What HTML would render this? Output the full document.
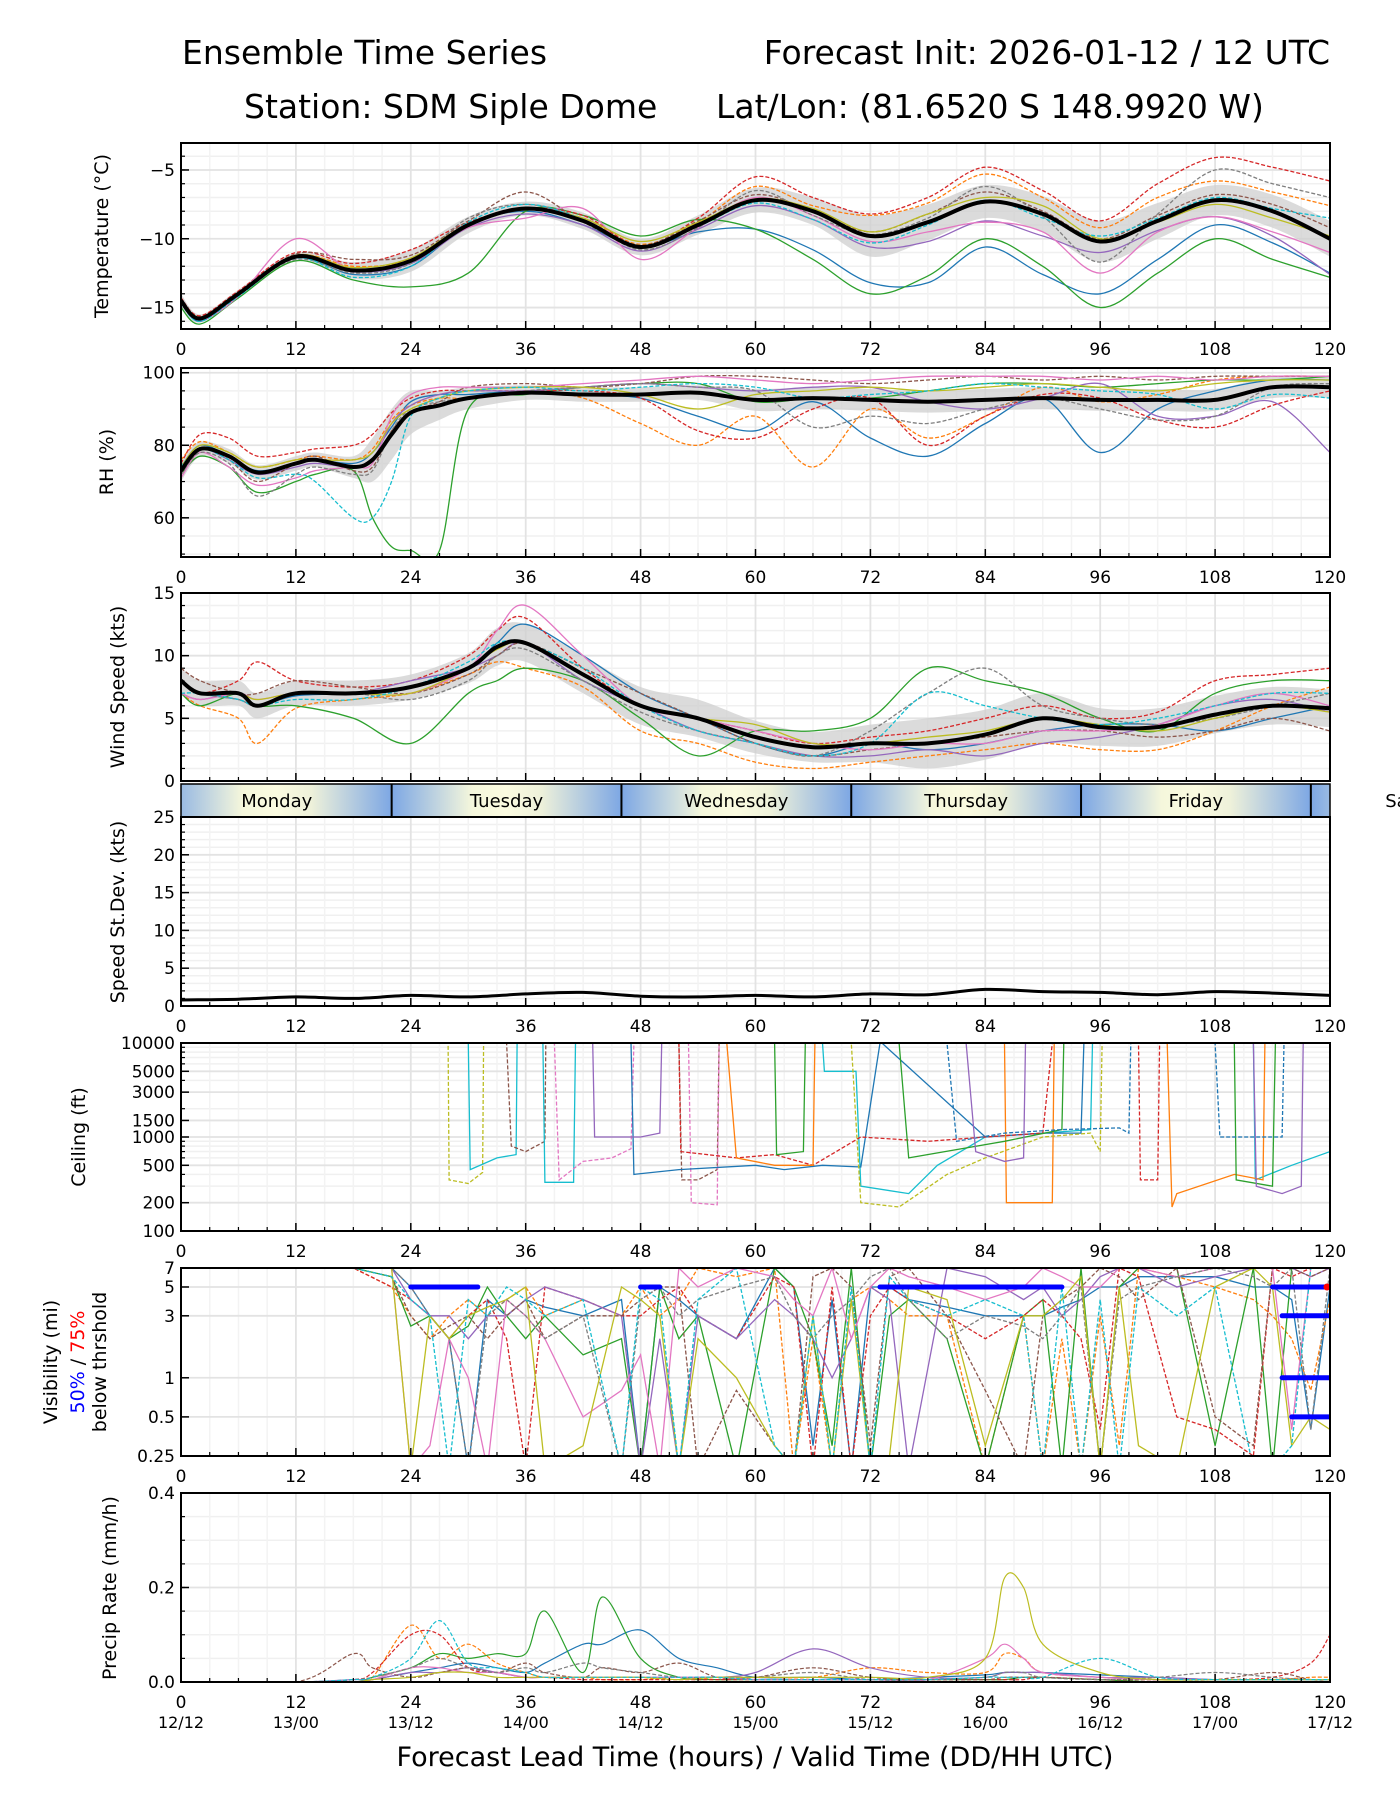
<!DOCTYPE html>
<html><head><meta charset="utf-8"><title>Ensemble Time Series SDM</title>
<style>
html,body{margin:0;padding:0;background:#fff;}
svg{display:block;font-family:"DejaVu Sans","Liberation Sans",sans-serif;}
</style></head>
<body>
<svg id="fig" width="1400" height="1800" viewBox="0 0 1400 1800" xmlns="http://www.w3.org/2000/svg">
<text x="182" y="64" font-size="33">Ensemble Time Series</text>
<text x="1330" y="64" font-size="33" text-anchor="end">Forecast Init: 2026-01-12 / 12 UTC</text>
<text x="244" y="118" font-size="33">Station: SDM  Siple Dome</text>
<text x="716" y="118" font-size="33">Lat/Lon: (81.6520 S 148.9920 W)</text>
<text x="755" y="1766" font-size="27" text-anchor="middle">Forecast Lead Time (hours) / Valid Time (DD/HH UTC)</text>
</svg>
<script>
// ---------------- DATA ----------------
const colors=["#1f77b4","#ff7f0e","#2ca02c","#d62728","#9467bd","#8c564b","#e377c2","#7f7f7f","#bcbd22","#17becf"];
const hoursT=[0,2,6,12,18,24,30,36,42,48,54,60,66,72,78,84,90,96,102,108,114,120];
const meanT=[-14.5,-15.8,-14.0,-11.3,-12.3,-11.6,-9.0,-7.8,-8.7,-10.6,-9.0,-7.2,-8.0,-9.8,-8.8,-7.3,-8.2,-10.2,-8.7,-7.2,-8.0,-10.0];
const spreadT=[0.5,0.3,0.3,0.3,0.6,0.8,0.6,0.5,0.6,0.6,0.7,0.9,1.0,1.5,1.3,1.2,1.3,1.5,1.3,1.1,1.2,1.3];
const tempM0=[-14.6,-16,-14.1,-11.4,-12.6,-12,-9,-8,-9,-10.6,-9.5,-9.3,-10.8,-13.2,-13.2,-10.6,-12.6,-14,-11.5,-9,-10.3,-12.5];
const tempM1=[-14.4,-15.7,-13.9,-11.2,-12,-11.5,-9,-7.9,-8.5,-10.4,-8.8,-6.2,-7.6,-8.3,-7.4,-5.3,-7,-9.2,-7,-5.8,-6.6,-7.6];
const tempM2=[-15,-16.2,-14.3,-11.6,-13,-13.5,-12.5,-8,-8.3,-9.8,-8.6,-9.3,-11.5,-14,-12.7,-10,-12,-15,-12.5,-10,-11.5,-12.8];
const tempM3=[-14.3,-15.6,-13.8,-11,-11.8,-10.8,-8.8,-7.8,-8.3,-10.5,-8.5,-5.5,-7,-8.2,-7,-4.8,-6.5,-8.7,-6,-4.1,-4.8,-5.8];
const tempM4=[-14.5,-15.8,-14,-11.3,-12.4,-11.8,-9.2,-8.2,-9,-10.9,-9.3,-7.6,-8.6,-10.6,-10.2,-8.7,-9.8,-11,-9.4,-8.4,-9.8,-12.6];
const tempM5=[-14.5,-15.8,-14,-11.1,-11.5,-11.2,-8.7,-6.6,-8.8,-10.5,-8.7,-6.8,-8.0,-9.5,-8.2,-6.6,-8,-10,-8.3,-6.8,-7.5,-9.2];
const tempM6=[-14.5,-15.9,-14.2,-10,-12.3,-11.5,-9.2,-8.5,-7.8,-11.5,-9.2,-7,-8.3,-10.2,-9.5,-8.8,-9.5,-12.5,-9.5,-8.4,-9.5,-11];
const tempM7=[-14.6,-15.9,-14,-11.5,-12.5,-11.8,-8.5,-7.5,-8.6,-10.8,-9.2,-6.5,-8.3,-9.7,-8.5,-6.2,-8.4,-11.7,-8.2,-5,-6,-7];
const tempM8=[-14.4,-15.7,-14,-11.2,-12.1,-11.4,-8.9,-7.8,-8.5,-10.2,-8.8,-7.1,-7.8,-9.5,-8.2,-7,-7.6,-10,-8.8,-7.5,-8.5,-9.8];
const tempM9=[-14.7,-16,-14.2,-11.4,-12.8,-12,-8.8,-7.5,-8.6,-10.5,-9.1,-7.4,-8.6,-10.3,-9,-7.2,-8.5,-9.8,-8.5,-7,-7.8,-8.5];

const hoursR=[0,2,5,8,12,14,18,20,22,24,27,30,36,42,48,54,60,66,72,78,84,90,96,102,108,114,120];
const meanR=[73,79,77,72.5,75,76,74,76,83,89,91,93,94.5,94,94,94.5,92.5,93,92.5,92,92.5,93,92.5,92.5,92.5,96,96];
const spreadR=[3,2,2,2,2,2,3,6,7,6,4,3,2,2,2,2,3,3,3,3,3,3,3,3,3,3,3];
const rhM0=[74,80,77,73,75,76,75,78,85,92,94,94,95,94,93,88,84,92,82,77,86,93,78,90,95,98,98];
const rhM1=[76,81,78,74,76,77,76,79,87,91,93,93,95,93,86,80,88,74,90,82,88,96,92,94,98,99,99];
const rhM2=[72,77,74,67,70,72,73,60,52,51,51,90,94,96,97,97,92,93,93,95,97,97,96,97,98,98,99];
const rhM3=[75,83,82,77,78,79,80,83,89,93,95,95,95,95,93,84,82,90,93,80,88,94,93,87,85,91,95];
const rhM4=[73,79,76,72,74,75,74,76,86,91,94,95,95,96,97,96,95,96,96,92,90,93,97,88,88,92,78];
const rhM5=[72,79,76,70,75,77,73,74,84,89,92,96,97,96,97,99,99,98,97,98,99,98,99,98,99,99,99];
const rhM6=[71,78,74,69,71,73,74,75,88,94,96,96,96,97,98,99,98,97,98,99,99,99,98,99,98,99,99];
const rhM7=[72,78,75,66,72,74,72,73,84,90,92,93,95,96,97,96,95,85,88,86,90,93,90,87,88,96,97];
const rhM8=[74,80,78,74,76,76,76,78,86,90,93,95,96,96,94,90,94,95,96,95,96,97,96,95,97,98,98];
const rhM9=[74,79,76,71,72,70,60,60,70,88,93,95,96,95,96,97,96,93,94,95,97,96,95,94,90,94,93];

const hoursW=[0,2,6,8,12,18,24,30,33,36,42,48,54,60,66,72,78,84,90,96,102,108,114,120];
const meanW=[8,7,7,6,7,7,7.5,9,10.7,11,8.5,6,5,3.5,2.7,3,3,3.7,5,4.3,4.3,5.3,6,5.8];
const spreadW=[1,1,1,1,1,1,1,1.2,1.5,1.5,1.5,1.5,1.5,1.3,1.2,1.5,2,2,2,1.5,1.5,1.5,1.5,1.5];
const windM0=[8,7,6.5,6,6.8,7,7.5,9,11,12.5,10,7,5,3,2,3,2.5,3,4,4.5,4.5,4,5,6];
const windM1=[7,6,5,3,5.8,6.5,7,8.5,9.5,9,7.5,4,3,1.5,1,1.5,2,2.5,3,2.5,2.5,4,6,7.5];
const windM2=[7,6,7,6,6,5,3,7,8,9,8,5,2,4,4,5,9,8,7,5,4,7,8,8];
const windM3=[8,7,8,9.5,8,7.5,8,10,12,13,9,6,5,4,3,3.5,4,5,6,5,5.5,8,8.5,9];
const windM4=[7,6.5,7,6,7,7,8,9,10,11,8,6,4,3,2,2,2.5,2,3,3.5,4.5,6,6.5,5.5];
const windM5=[9,8,7,7,8,7.5,7,8.5,10,11,9,7,5,3,2,2.5,3,3.5,4,4,3.5,4,5,4];
const windM6=[7,6.5,7,6.5,7,7,7,9,12,14,10,6,5,4,3,2.5,3,3,4,4,4.5,6,7,6];
const windM7=[8,7,6.5,6,7,7,6.5,8,10,10.5,8,5.5,4,3,2,4,7,9,6,5,4.5,5,6,7];
const windM8=[8,7,7,6.5,7,7,7,9,10.5,11,8.5,6,5,4.5,3,3,3.5,4,5,4.5,4,5,6,5.5];
const windM9=[7,7,6.5,6,6.5,6.5,7.5,9.5,11,11,9,6,4,3,2,3,7,6,5,4.5,5,6,7,7];

const hoursS=[0,6,12,18,24,30,36,42,48,54,60,66,72,78,84,90,96,102,108,114,120];
const stdS=[0.8,0.9,1.2,1.0,1.4,1.2,1.6,1.8,1.3,1.2,1.4,1.2,1.6,1.5,2.2,1.9,1.8,1.5,1.9,1.7,1.4];

// ceiling members (10000 = no ceiling)
const ceilH0=[0,27.9,28,30,31.5,31.6,120]; const ceilV0=[1e4,1e4,350,320,420,1e4,1e4];
const ceilH1=[0,30,30.2,33,35,35.1,112,112.2,116,120]; const ceilV1=[1e4,1e4,450,600,650,1e4,1e4,350,500,700];
const ceilH2=[0,34,34.5,36,38,38.1,52,52.3,54,56,56.2,120]; const ceilV2=[1e4,1e4,800,700,900,1e4,1e4,350,350,450,1e4,1e4];
const ceilH3=[0,37.8,38,41,41.2,67,67.2,70.5,71,76,79,84,90,95,95.2,120]; const ceilV3=[1e4,1e4,330,330,1e4,1e4,5000,5000,300,250,500,1000,1100,1200,1e4,1e4];
const ceilH4=[0,39,39.5,42,45,47,47.3,53,53.3,56,56.2,120]; const ceilV4=[1e4,1e4,350,550,600,750,1e4,1e4,200,190,1e4,1e4];
const ceilH5=[0,47,47.3,52,60,63,67,71,73,73.2,84,90,94,94.3,120]; const ceilV5=[1e4,1e4,400,450,500,450,500,480,1e4,1e4,1000,1100,1100,1e4,1e4];
const ceilH6=[0,52,52.2,58,62,66,71,78,84,90,91,91.2,100,100.2,102,102.2,120]; const ceilV6=[1e4,1e4,700,600,650,500,1000,900,1000,1100,1e4,1e4,1e4,350,350,1e4,1e4];
const ceilH7=[0,57,58,62,66,66.2,86,86.2,91,91.2,103,103.5,104,110,113,113.2,120]; const ceilV7=[1e4,1e4,600,500,500,1e4,1e4,200,200,1e4,1e4,180,250,400,350,1e4,1e4];
const ceilH8=[0,70,71,75,80,84,90,95,96,96.2,120]; const ceilV8=[1e4,1e4,200,180,400,600,1000,1100,700,1e4,1e4];
const ceilH9=[0,62,62.2,65,65.2,75,76,86,92,92.2,110,110.2,114,114.3,118,120]; const ceilV9=[1e4,1e4,650,700,1e4,1e4,600,900,1200,1e4,1e4,350,300,1e4,1e4,1e4];
const ceilH10=[0,80,81,86,92,98,99,99.2,108,108.5,115,115.2,120]; const ceilV10=[1e4,1e4,900,1100,1200,1250,1100,1e4,1e4,1000,1000,1e4,1e4];
const ceilH11=[0,43,43.2,48,50,50.2,82,83,86,88,88.2,112,112.3,115,117,117.2,120]; const ceilV11=[1e4,1e4,1000,1000,1100,1e4,1e4,700,550,600,1e4,1e4,300,250,300,1e4,1e4];

// visibility members (mi; 7 = unrestricted, 0.2 = below axis)
const visH=[0,18,22,24,26,28,30,32,34,36,38,42,46,48,50,52,54,58,62,64,66,68,70,72,74,76,80,84,88,90,92,94,96,98,100,104,108,112,114,116,118,120];
const visM0=[7,7,7,5,3,2,0.2,4,3,4,3.5,3,4,0.2,5,4,3,2,7,5,0.3,4,0.2,5,5,4,3.5,3,3,3,3.5,4,5,5,6,6,6,5,5,4,0.4,5];
const visM1=[7,7,5,3,2,3,4,3,4,5,3,4,3,5,3,4,7,6,7,0.2,2,0.2,4,5,4,3,3,0.2,3,0.2,2,0.2,3,0.3,7,6,5,4,3,2,0.8,4];
const visM2=[7,7,6,2.5,3,2,2.5,5,3,2,3,1.5,2,0.2,5,2,3,0.2,7,5,2,0.3,7,0.2,3,4,2,0.2,3,4,0.2,7,0.2,5,7,7,0.3,7,0.2,7,7,7];
const visM3=[7,7,5,4,3,2,3,4,2,0.2,5,4,3,3,4,5,3,2,6,5,0.2,5,0.2,3,5,4,3,2,3,4,3,2,0.4,7,6,0.5,0.4,0.25,7,6,7,7];
const visM4=[7,7,7,4,3,3,2,3,3,4,5,4,3,0.2,2,0.2,3,2,4,3,2,1,2,5,4,0.2,7,6,4,5,3,4,6,7,7,5,6,7,7,7,6,7];
const visM5=[7,7,6,3,2,2.5,3,2,3,4,2,3,3,4,5,5,0.2,0.8,0.3,0.2,6,7,5,0.3,6,7,3,0.8,0.2,3,4,5,7,6,4,7,0.5,0.3,7,7,6,7];
const visM6=[7,7,7,0.2,0.3,2,1,0.2,4,3,2,0.5,0.8,1.5,0.2,7,5,7,6,4,3,7,2,5,7,6,5,4,5,7,6,5,5,7,7,6,7,7,7,0.4,7,7];
const visM7=[7,7,7,5,3,2,0.2,3,4,3,2,3,0.2,4,5,3,4,5,6,3,2,3,4,6,7,4,2,3,2.5,2,3,5,0.2,4,5,6,7,6,5,7,0.4,7];
const visM8=[7,7,7,0.2,3,2,3,3.5,4,5,0.2,0.3,5,4,3,0.2,2,1,0.3,0.2,3,0.2,4,0.2,0.25,5,4,0.3,3,3,4,6,0.2,5,0.3,0.2,5,7,5,0.3,0.5,0.4];
const visM9=[7,7,6,4,3,0.2,4,3,5,4,3,4,0.2,5,4,0.2,4,7,0.3,0.2,3,0.2,5,0.2,6,4,3,4,3,0.2,5,0.2,4,0.2,5,3,5,0.2,0.2,0.3,7,7];
// threshold bars (50% below threshold)
const thrStart=[24,48,73,114,115,115,116];
const thrEnd=[31,50,92,120,120,120,120];
const thrLevel=[5,5,5,5,3,1,0.5];

const hoursP=[0,12,18,20,24,27,30,33,36,38,42,44,48,52,56,60,66,72,78,84,86,88,90,96,102,108,114,118,120];
const precM0=[0,0,0,.005,.02,.03,.04,.03,.02,.04,.08,.08,.11,.05,.03,.01,.01,.005,.01,.015,.02,.02,.02,.015,.01,.005,.005,.005,.005];
const precM1=[0,0,0,.01,.12,.05,.08,.04,.02,.01,.01,.005,.005,.01,.005,.01,.01,.03,.02,.02,.06,.05,.02,.01,.005,.005,.005,.01,.01];
const precM2=[0,0,0,.01,.03,.06,.05,.06,.06,.15,.02,.18,.05,.01,.005,.005,.005,.005,.005,.005,.005,.01,.01,.005,0,0,0,0,0];
const precM3=[0,0,.005,.02,.1,.1,.03,.02,.01,.01,.005,.005,.005,.005,.005,.005,.005,.005,.005,.005,.005,.005,.01,.005,.005,.005,.01,.04,.1];
const precM4=[0,0,.005,.005,.02,.02,.03,.02,.01,.01,.01,.01,.01,.01,.01,.02,.07,.03,.01,.01,.02,.02,.02,.01,.01,.005,.005,.005,.005];
const precM5=[0,0,.06,.03,.01,.02,.03,.02,.04,.02,.01,.03,.02,.04,.01,.01,.03,.01,.005,.005,.01,.01,.01,.005,.005,.005,.02,.005,.005];
const precM6=[0,0,0,.005,.03,.03,.02,.02,.01,.01,.01,.01,.01,.01,.01,.005,.005,.005,.005,.05,.08,.05,.02,.01,.005,.005,.005,.005,.005];
const precM7=[0,0,.005,.01,.03,.05,.03,.02,.03,.02,.04,.03,.02,.01,.01,.01,.02,.005,.005,.01,.02,.02,.01,.005,.01,.02,.01,.005,.005];
const precM8=[0,0,0,.005,.01,.02,.02,.01,.01,.01,.01,.01,.01,.005,.01,.01,.01,.01,.01,.05,.22,.2,.08,.02,.005,.005,.005,.005,.005];
const precM9=[0,0,.005,.01,.05,.13,.04,.03,.02,.01,.01,.01,.01,.01,.01,.005,.005,.005,.005,.01,.01,.01,.01,.05,.01,.005,.005,.005,.005];

const xTickLabels=["0","12","24","36","48","60","72","84","96","108","120"];
const validLabels=["12/12","13/00","13/12","14/00","14/12","15/00","15/12","16/00","16/12","17/00","17/12"];
const dayNames=["Monday","Tuesday","Wednesday","Thursday","Friday","Saturday"];
const dayStartHours=[-2,22,46,70,94,118];

// ---------------- DRAWING ----------------
const NS="http://www.w3.org/2000/svg";
const svg=document.getElementById('fig');
const X0=181,X1=1330;
function mk(tag,attrs,parent){const e=document.createElementNS(NS,tag);for(const k in attrs)e.setAttribute(k,attrs[k]);(parent||svg).appendChild(e);return e;}
function xs(h){return X0+h*(X1-X0)/120;}
function linScale(top,bot,lo,hi){return v=>bot-(v-lo)/(hi-lo)*(bot-top);}
function logScale(top,bot,lo,hi){return v=>bot-(Math.log(Math.max(v,1e-6))-Math.log(lo))/(Math.log(hi)-Math.log(lo))*(bot-top);}
function smoothPath(pts){
  let d="M"+pts[0][0].toFixed(1)+","+pts[0][1].toFixed(1);
  for(let i=0;i<pts.length-1;i++){
    const p0=pts[i-1]||pts[i],p1=pts[i],p2=pts[i+1],p3=pts[i+2]||p2;
    const c1=[p1[0]+(p2[0]-p0[0])/6,p1[1]+(p2[1]-p0[1])/6];
    const c2=[p2[0]-(p3[0]-p1[0])/6,p2[1]-(p3[1]-p1[1])/6];
    d+="C"+c1[0].toFixed(1)+","+c1[1].toFixed(1)+" "+c2[0].toFixed(1)+","+c2[1].toFixed(1)+" "+p2[0].toFixed(1)+","+p2[1].toFixed(1);
  }
  return d;
}
function linePath(pts){return "M"+pts.map(p=>p[0].toFixed(1)+","+p[1].toFixed(1)).join("L");}

let clipN=0;
function panel(name,top,bot,ys,majors,labels,minors){
  const g=mk('g',{});
  
  
  const id='clip'+(clipN++);
  const cp=mk('clipPath',{id:id},g);mk('rect',{x:X0,y:top,width:X1-X0,height:bot-top},cp);
  minors.forEach(v=>{const y=ys(v);if(y<top||y>bot)return;const l=mk('line',{x1:X0,x2:X1,y1:y,y2:y,stroke:'#f0f0f0','stroke-width':1.5},g);
    
    });
  for(let h=3;h<120;h+=3){if(h%12===0)continue;const l=mk('line',{x1:xs(h),x2:xs(h),y1:top,y2:bot,stroke:'#f3f3f3','stroke-width':1.5},g);
    
    }
  for(let h=12;h<120;h+=12){const l=mk('line',{x1:xs(h),x2:xs(h),y1:top,y2:bot,stroke:'#e3e3e3','stroke-width':1.8},g);
    
    }
  majors.forEach((v,i)=>{const y=ys(v);const l=mk('line',{x1:X0,x2:X1,y1:y,y2:y,stroke:'#e3e3e3','stroke-width':1.8},g);
    
    
    const tk=mk('line',{x1:X0,x2:X0+8,y1:y,y2:y,stroke:'#000','stroke-width':1.5},g);
    
    
    const t=mk('text',{x:X0-6,y:y+6,'font-size':17,'text-anchor':'end'},g);t.textContent=labels[i];
    
    });
  minors.forEach(v=>{const y=ys(v);if(y<top-0.5||y>bot+0.5)return;const tk=mk('line',{x1:X0,x2:X0+4,y1:y,y2:y,stroke:'#000','stroke-width':1.2},g);
    
    });
  const plot=mk('g',{'clip-path':'url(#'+id+')'},g);
  
  
  return {g,plot,top,bot,ys};
}
function frame(P,withLabels){
  const g=P.g;
  for(let h=0;h<=120;h+=3){const maj=h%12===0;const tk=mk('line',{x1:xs(h),x2:xs(h),y1:P.bot,y2:P.bot-(maj?8:4),stroke:'#000','stroke-width':maj?1.5:1.2},g);
    
    }
  const f=mk('rect',{x:X0,y:P.top,width:X1-X0,height:P.bot-P.top,fill:'none',stroke:'#000','stroke-width':2},g);
  
  
  if(withLabels){xTickLabels.forEach((s,i)=>{const t=mk('text',{x:xs(i*12),y:P.bot+26,'font-size':17,'text-anchor':'middle'},g);t.textContent=s;
    
    });}
}
function ylabel(text,x,cy,name){const t=mk('text',{x:x,y:cy,'font-size':19,'text-anchor':'middle',transform:'rotate(-90 '+x+' '+cy+')'});t.textContent=text;
  
  return t;}
function drawMembers(P,hours,members,smooth,w){
  members.forEach((m,i)=>{const pts=hours.map((h,j)=>[xs(h),P.ys(m[j])]);
    const p=mk('path',{d:smooth?smoothPath(pts):linePath(pts),fill:'none',stroke:colors[i%10],'stroke-width':w||1.3,'stroke-dasharray':i%2?'4,2':'none'},P.plot);
    
    });
}
function drawBand(P,hours,mean,spread){
  const up=hours.map((h,j)=>[xs(h),P.ys(mean[j]+spread[j])]);
  const lo=hours.map((h,j)=>[xs(h),P.ys(mean[j]-spread[j])]).reverse();
  const d=smoothPath(up)+"L"+smoothPath(lo).slice(1)+"Z";
  const p=mk('path',{d:d,fill:'#cfcfcf','fill-opacity':0.75,stroke:'none'},P.plot);
  
  
}
function drawMean(P,hours,mean,w){
  const p=mk('path',{d:smoothPath(hours.map((h,j)=>[xs(h),P.ys(mean[j])])),fill:'none',stroke:'#000','stroke-width':w||4},P.plot);
  
  
}
function range(a,b,s){const r=[];for(let v=a;v<=b+1e-9;v+=s)r.push(+v.toFixed(4));return r;}

// Temperature
let ys=linScale(143,329,-16.56,-3.04);
let P=panel('temperature',143,329,ys,[-5,-10,-15],["\u22125","\u221210","\u221215"],range(-16,-4,1));
drawBand(P,hoursT,meanT,spreadT);
drawMembers(P,hoursT,[tempM0,tempM1,tempM2,tempM3,tempM4,tempM5,tempM6,tempM7,tempM8,tempM9],true);
drawMean(P,hoursT,meanT);
frame(P,true);
ylabel("Temperature (\u00b0C)",108,236,'temperature-y-axis-title');

// RH
ys=linScale(368,557,49.2,101.3);
P=panel('rh',368,557,ys,[60,80,100],["60","80","100"],range(50,100,5));
drawBand(P,hoursR,meanR,spreadR);
drawMembers(P,hoursR,[rhM0,rhM1,rhM2,rhM3,rhM4,rhM5,rhM6,rhM7,rhM8,rhM9],true);
drawMean(P,hoursR,meanR);
frame(P,true);
ylabel("RH (%)",113,462,'rh-y-axis-title');

// Wind
ys=linScale(593,781,0,15);
P=panel('wind-speed',593,781,ys,[0,5,10,15],["0","5","10","15"],range(0,15,1));
drawBand(P,hoursW,meanW,spreadW);
drawMembers(P,hoursW,[windM0,windM1,windM2,windM3,windM4,windM5,windM6,windM7,windM8,windM9],true);
drawMean(P,hoursW,meanW);
frame(P,false);
ylabel("Wind Speed (kts)",124,687,'wind-y-axis-title');

// Day bar
(function(){
  const g=mk('g',{});
  
  
  const defs=mk('defs',{},g);
  const grad=mk('linearGradient',{id:'dayGrad',x1:'0',x2:'1',y1:'0',y2:'0'},defs);
  [[0,'#7da7e4'],[0.35,'#f5f7dc'],[0.5,'#fbfbe0'],[0.65,'#eef1da'],[1,'#7da7e4']].forEach(s=>mk('stop',{offset:s[0],'stop-color':s[1]},grad));
  const cp=mk('clipPath',{id:'dayclip'},defs);mk('rect',{x:X0,y:784,width:X1-X0,height:33},cp);
  const inner=mk('g',{'clip-path':'url(#dayclip)'},g);
  dayStartHours.forEach((s,i)=>{
    const r=mk('rect',{x:xs(s),y:784,width:xs(s+24)-xs(s),height:33,fill:'url(#dayGrad)'},inner);
    
    
    if(i>0){const l=mk('line',{x1:xs(s),x2:xs(s),y1:784,y2:817,stroke:'#000','stroke-width':2},inner);
      
      }
  });
  dayStartHours.forEach((s,i)=>{
    const t=mk('text',{x:xs(s+12),y:807,'font-size':18,'text-anchor':'middle'},g);t.textContent=dayNames[i];
    
    
  });
  const f=mk('rect',{x:X0,y:784,width:X1-X0,height:33,fill:'none',stroke:'#000','stroke-width':1.5},g);
  
  
})();

// Std dev
ys=linScale(817,1006,0,25);
P=panel('speed-stddev',817,1006,ys,[0,5,10,15,20,25],["0","5","10","15","20","25"],range(0,25,1));
drawMean(P,hoursS,stdS,3);
frame(P,true);
ylabel("Speed St.Dev. (kts)",124,912,'stddev-y-axis-title');

// Ceiling
ys=logScale(1043,1231,100,10000);
P=panel('ceiling',1043,1231,ys,[100,200,500,1000,1500,3000,5000,10000],["100","200","500","1000","1500","3000","5000","10000"],[300,400,600,700,800,900,2000,4000,6000,7000,8000,9000]);
(function(){const H=[ceilH0,ceilH1,ceilH2,ceilH3,ceilH4,ceilH5,ceilH6,ceilH7,ceilH8,ceilH9,ceilH10,ceilH11];
 const V=[ceilV0,ceilV1,ceilV2,ceilV3,ceilV4,ceilV5,ceilV6,ceilV7,ceilV8,ceilV9,ceilV10,ceilV11];
 const cols=[8,9,5,9,6,0,3,1,8,2,0,4];
 H.forEach((hh,i)=>{const pts=hh.map((h,j)=>[xs(h),P.ys(V[i][j])]);
  const p=mk('path',{d:linePath(pts),fill:'none',stroke:colors[cols[i]],'stroke-width':1.3,'stroke-dasharray':i%2?'none':'4,2'},P.plot);
  
  });})();
frame(P,true);
ylabel("Ceiling (ft)",85,1137,'ceiling-y-axis-title');

// Visibility
ys=logScale(1268,1456,0.25,7);
P=panel('visibility',1268,1456,ys,[0.25,0.5,1,3,5,7],["0.25","0.5","1","3","5","7"],[]);
drawMembers(P,visH,[visM0,visM1,visM2,visM3,visM4,visM5,visM6,visM7,visM8,visM9],false,1.3);
thrStart.forEach((s,i)=>{const y=P.ys(thrLevel[i]);
  const l=mk('line',{x1:xs(s),x2:xs(thrEnd[i]),y1:y,y2:y,stroke:'#0000ff','stroke-width':5,'stroke-linecap':'round'},P.plot);
  
  });
(function(){const c=mk('circle',{cx:xs(120)-3,cy:P.ys(5),r:3.5,fill:'#ff0000'},P.plot);
  
  })();
frame(P,true);
(function(){const cy=1362;
  ylabel("Visibility (mi)",57,cy,'visibility-y-axis-title');
  const t=mk('text',{x:84,y:cy,'font-size':19,'text-anchor':'middle',transform:'rotate(-90 84 '+cy+')'});
  
  
  const a=mk('tspan',{fill:'#0000ff'},t);a.textContent="50%";
  const b=mk('tspan',{fill:'#000'},t);b.textContent=" / ";
  const c=mk('tspan',{fill:'#ff0000'},t);c.textContent="75%";
  ylabel("below thrshold",106,cy,'threshold-subtitle');})();

// Precip
ys=linScale(1493,1682,0,0.4);
P=panel('precip',1493,1682,ys,[0,0.2,0.4],["0.0","0.2","0.4"],range(0,0.4,0.05));
drawMembers(P,hoursP,[precM0,precM1,precM2,precM3,precM4,precM5,precM6,precM7,precM8,precM9],true,1.2);
frame(P,true);
validLabels.forEach((s,i)=>{const t=mk('text',{x:xs(i*12),y:1728,'font-size':16,'text-anchor':'middle'});t.textContent=s;
  
  });
ylabel("Precip Rate (mm/h)",116,1588,'precip-y-axis-title');
</script>
</body></html>
